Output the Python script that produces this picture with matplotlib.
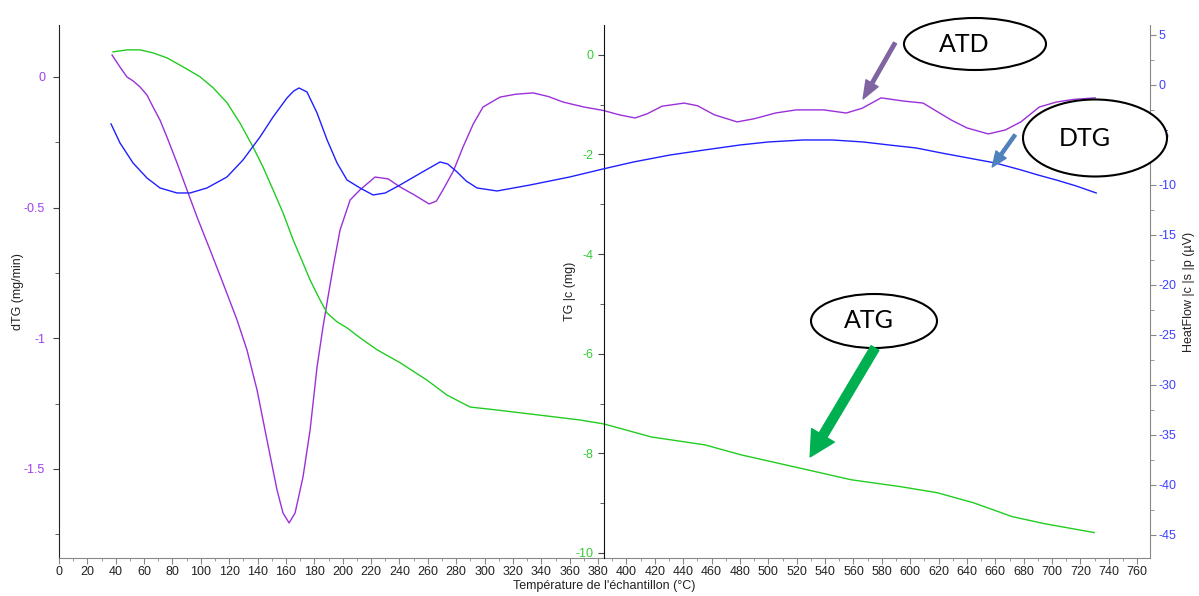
import matplotlib
matplotlib.use("Agg")
import matplotlib.pyplot as plt
from matplotlib.patches import Ellipse
from matplotlib.ticker import MultipleLocator, FormatStrFormatter

plt.rcParams['font.family'] = ['Liberation Sans', 'DejaVu Sans']
plt.rcParams['axes.unicode_minus'] = False

# dTG (mg/min), left axis
t_dtg = [37.4, 43.0, 47.9, 52.2, 57.1, 62.0, 66.3, 71.2, 76.1, 83.2, 90.2, 97.3,
         106.5, 115.6, 125.5, 132.5, 139.6, 146.6, 153.7, 157.9, 162.2, 166.4, 172.0,
         177.0, 181.9, 186.0, 190.0, 193.5, 198.1, 205.2, 212.2, 222.8, 232.0, 240.4,
         250.0, 260.9, 266.0, 270.7, 278.0, 284.8, 292.0, 298.9, 310.9, 322.0, 334.2,
         345.0, 355.3, 370.0, 383.5, 395.0, 406.1, 415.0, 425.0, 440.6, 450.0, 462.0,
         478.0, 490.0, 505.0, 519.6, 539.0, 554.9, 566.0, 579.5, 595.0, 609.1, 629.0,
         640.0, 655.0, 667.0, 678.0, 691.0, 703.0, 715.0, 730.4]
dtg = [0.084, 0.038, 0.0, -0.015, -0.038, -0.069, -0.115, -0.165, -0.230, -0.329, -0.432, -0.536,
       -0.662, -0.789, -0.930, -1.045, -1.198, -1.389, -1.581, -1.669, -1.707, -1.669, -1.531,
       -1.351, -1.110, -0.960, -0.830, -0.720, -0.586, -0.471, -0.432, -0.383, -0.390, -0.421,
       -0.450, -0.486, -0.475, -0.432, -0.360, -0.268, -0.180, -0.115, -0.077, -0.066, -0.061,
       -0.075, -0.096, -0.115, -0.128, -0.145, -0.157, -0.140, -0.112, -0.100, -0.110, -0.145,
       -0.172, -0.160, -0.138, -0.126, -0.126, -0.138, -0.120, -0.080, -0.092, -0.100, -0.165,
       -0.195, -0.218, -0.203, -0.172, -0.115, -0.096, -0.086, -0.080]

# TG (mg), middle axis
t_tg = [38.1, 47.9, 57.1, 66.3, 76.1, 87.4, 99.4, 108.6, 118.4, 127.6, 136.8, 143.8,
        150.9, 157.9, 165.0, 172.0, 177.0, 184.0, 188.9, 196.0, 203.0, 212.2, 224.2,
        240.4, 259.4, 273.5, 289.8, 308.8, 344.0, 367.3, 384.2, 417.4, 455.4, 480.8,
        518.2, 558.4, 593.6, 619.0, 644.4, 671.9, 694.4, 729.7]
tg = [0.06, 0.10, 0.10, 0.04, -0.06, -0.24, -0.44, -0.66, -0.96, -1.37, -1.85, -2.25,
      -2.71, -3.17, -3.71, -4.18, -4.52, -4.92, -5.18, -5.36, -5.48, -5.68, -5.92,
      -6.18, -6.53, -6.83, -7.07, -7.13, -7.25, -7.33, -7.41, -7.67, -7.83, -8.03,
      -8.27, -8.53, -8.67, -8.79, -8.99, -9.27, -9.41, -9.59]

# HeatFlow (uV), right axis
t_hf = [36.7, 43.0, 52.2, 62.0, 71.2, 83.2, 92.4, 104.3, 118.4, 129.7, 141.7, 150.9,
        160.7, 165.5, 169.2, 174.8, 181.9, 189.0, 196.0, 203.0, 212.2, 221.4,
        230.0, 240.4, 255.0, 268.6, 274.0, 280.6, 287.0, 294.7, 308.8, 332.1, 360.0,
        383.5, 405.0, 430.8, 455.0, 480.1, 500.0, 524.5, 545.0, 566.8, 585.0, 604.2,
        622.0, 640.9, 660.0, 678.2, 690.0, 702.9, 717.0, 731.1]
hf = [-3.9, -5.8, -7.8, -9.3, -10.3, -10.8, -10.8, -10.3, -9.2, -7.5, -5.2, -3.2,
      -1.3, -0.6, -0.3, -0.7, -2.8, -5.5, -7.8, -9.5, -10.3, -11.0,
      -10.8, -10.0, -8.8, -7.7, -7.9, -8.7, -9.6, -10.3, -10.6, -10.0, -9.2,
      -8.4, -7.7, -7.0, -6.5, -6.0, -5.7, -5.5, -5.5, -5.7, -6.0, -6.3,
      -6.8, -7.3, -7.8, -8.5, -9.0, -9.5, -10.1, -10.8]

purple = '#9b30d9'
green = '#22cc22'
blue = '#2020ff'

fig = plt.figure(figsize=(11.99, 5.96), dpi=100)
ax = fig.add_axes([0.0492, 0.0638, 0.9099, 0.8943])
ax_tg = ax.twinx()
ax_hf = ax.twinx()

ax.plot(t_dtg, dtg, color=purple, lw=1)
ax_tg.plot(t_tg, tg, color=green, lw=1)
ax_hf.plot(t_hf, hf, color=blue, lw=1)

ax.set_xlim(0, 769)
ax.set_ylim(-1.841, 0.199)
ax_tg.set_ylim(-10.1, 0.6)
ax_hf.set_ylim(-47.3, 6.0)

# x axis
ax.xaxis.set_major_locator(MultipleLocator(20))
ax.xaxis.set_minor_locator(MultipleLocator(10))
ax.tick_params(axis='x', which='major', length=4, color='#888888', labelsize=9,
               labelcolor='#222222', pad=2)
ax.tick_params(axis='x', which='minor', length=2, color='#888888')
ax.set_xlabel("Température de l'échantillon (°C)", fontsize=9, color='#222222', labelpad=1)

# dTG axis
ax.yaxis.set_major_locator(MultipleLocator(0.5))
ax.yaxis.set_minor_locator(MultipleLocator(0.25))
ax.yaxis.set_major_formatter(FormatStrFormatter('%g'))
ax.tick_params(axis='y', which='major', length=4, color='#444444', labelsize=9,
               labelcolor='#a040f0', pad=6)
ax.tick_params(axis='y', which='minor', length=3, color='#444444')
ax.set_ylabel('dTG (mg/min)', fontsize=9, color='#222222', labelpad=0)
ax.spines['top'].set_visible(False)
ax.spines['right'].set_visible(False)
ax.spines['left'].set_color('#222222')
ax.spines['bottom'].set_color('#888888')

# TG axis in the middle
for s in ['top', 'right', 'bottom']:
    ax_tg.spines[s].set_visible(False)
ax_tg.spines['left'].set_visible(True)
ax_tg.spines['left'].set_position(('axes', 384.2 / 769))
ax_tg.spines['left'].set_color('#111111')
ax_tg.yaxis.set_ticks_position('left')
ax_tg.yaxis.set_label_position('left')
ax_tg.yaxis.set_major_locator(MultipleLocator(2))
ax_tg.yaxis.set_minor_locator(MultipleLocator(1))
ax_tg.yaxis.set_major_formatter(FormatStrFormatter('%g'))
ax_tg.tick_params(axis='y', which='major', length=4, color='#444444', labelsize=9,
                  labelcolor='#33cc33')
ax_tg.tick_params(axis='y', which='minor', length=3, color='#444444')
ax_tg.set_ylabel('TG |c (mg)', fontsize=9, color='#222222', labelpad=0)

# HeatFlow axis
for s in ['top', 'left', 'bottom']:
    ax_hf.spines[s].set_visible(False)
ax_hf.spines['right'].set_color('#888888')
ax_hf.yaxis.set_major_locator(MultipleLocator(5))
ax_hf.yaxis.set_minor_locator(MultipleLocator(2.5))
ax_hf.yaxis.set_major_formatter(FormatStrFormatter('%g'))
ax_hf.tick_params(axis='y', which='major', length=4, color='#888888', labelsize=9,
                  labelcolor='#4040ff', pad=2.5)
ax_hf.tick_params(axis='y', which='minor', length=3, color='#888888')
ax_hf.set_ylabel('HeatFlow |c |s |p (µV)', fontsize=9, color='#222222', labelpad=4)

# callouts drawn in pixel space on top
ov = fig.add_axes([0, 0, 1, 1], zorder=10)
ov.set_xlim(0, 1199)
ov.set_ylim(596, 0)
ov.axis('off')

callouts = [
    ('ATD', (975, 44), 142, 52, (964, 45)),
    ('DTG', (1095, 138), 144, 77, (1085, 139)),
    ('ATG', (874, 321), 126, 54, (869, 320)),
]
for name, c, w, h, tpos in callouts:
    ov.add_patch(Ellipse(c, w, h, facecolor='white', edgecolor='black', lw=1.5))
    ov.text(tpos[0], tpos[1], name, ha='center', va='center', fontsize=18,
            family=['Lato', 'DejaVu Sans'], color='black')

ov.annotate('', xy=(566.8, -0.084), xycoords=ax.transData, xytext=(895, 43),
            textcoords='data',
            arrowprops=dict(arrowstyle='simple,head_length=13,head_width=10,tail_width=2.5',
                            mutation_scale=1, color='#8064a2', shrinkA=0, shrinkB=0))
ov.annotate('', xy=(657.8, -8.2), xycoords=ax_hf.transData, xytext=(1015, 135),
            textcoords='data',
            arrowprops=dict(arrowstyle='simple,head_length=11,head_width=9,tail_width=2.2',
                            mutation_scale=1, color='#4f81bd', shrinkA=0, shrinkB=0))
ov.annotate('', xy=(529.5, -8.07), xycoords=ax_tg.transData, xytext=(875, 348),
            textcoords='data',
            arrowprops=dict(arrowstyle='simple,head_length=18,head_width=19,tail_width=6.5',
                            mutation_scale=1, color='#00b050', shrinkA=0, shrinkB=0))

fig.savefig('out.png', dpi=100)
